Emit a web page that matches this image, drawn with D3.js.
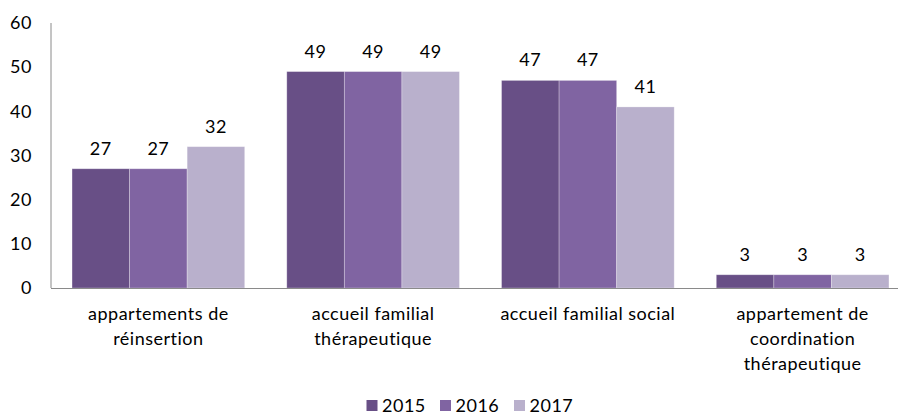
<!DOCTYPE html>
<html>
<head>
<meta charset="utf-8">
<script src="https://cdn.jsdelivr.net/npm/d3@7"></script>
<style>
  html, body { margin: 0; padding: 0; background: #fff; }
  svg { display: block; font-family: Lato, "Open Sans", sans-serif; letter-spacing: 0.5px; }
</style>
</head>
<body>
<svg id="chart" width="898" height="415"></svg>
<script>
// Categories (multi-line labels) and one value array per year
const categories = [
  ["appartements de", "réinsertion"],
  ["accueil familial", "thérapeutique"],
  ["accueil familial social"],
  ["appartement de", "coordination", "thérapeutique"]
];
const years = ["2015", "2016", "2017"];
const values2015 = [27, 49, 47, 3];
const values2016 = [27, 49, 47, 3];
const values2017 = [32, 49, 41, 3];
const yTicks = [0, 10, 20, 30, 40, 50, 60];
const colors = ["#684f86", "#8064a2", "#b9b0cc"];

const series = [values2015, values2016, values2017];

const svg = d3.select("#chart");
const fontSize = 18;

const x0 = d3.scaleBand()
  .domain(d3.range(categories.length))
  .range([51, 910])
  .paddingInner(0.196)
  .paddingOuter(0.098);

const x1 = d3.scaleBand()
  .domain(d3.range(years.length))
  .range([0, x0.bandwidth()]);

const y = d3.scaleLinear().domain([0, 60]).range([288, 23]);

// Y axis: labels only, plus the vertical rule
const yAxis = d3.axisLeft(y).tickValues(yTicks).tickSize(0).tickPadding(19);
const gy = svg.append("g").attr("transform", "translate(51,0)").call(yAxis);
gy.select(".domain").remove();
gy.selectAll("text")
  .attr("font-size", fontSize)
  .attr("font-family", "Lato, 'Open Sans', sans-serif")
  .attr("fill", "#000");

svg.append("line")
  .attr("x1", 51).attr("x2", 51)
  .attr("y1", y(60)).attr("y2", y(0))
  .attr("stroke", "#8a8a8a").attr("stroke-width", 1);

// Bars
const groups = svg.append("g").selectAll("g")
  .data(categories)
  .join("g")
  .attr("transform", (d, i) => `translate(${x0(i)},0)`);

groups.each(function(cat, ci) {
  const g = d3.select(this);
  series.forEach((vals, si) => {
    const v = vals[ci];
    g.append("rect")
      .attr("x", x1(si))
      .attr("y", y(v))
      .attr("width", x1.bandwidth())
      .attr("height", y(0) - y(v))
      .attr("fill", colors[si])
      .attr("stroke", "#ffffff")
      .attr("stroke-opacity", 0.35)
      .attr("stroke-width", 0.8);
    g.append("text")
      .attr("x", x1(si) + x1.bandwidth() / 2)
      .attr("y", y(v) - 14)
      .attr("text-anchor", "middle")
      .attr("font-size", fontSize)
      .attr("fill", "#000")
      .text(v);
  });
});

// X axis rule
svg.append("line")
  .attr("x1", 51).attr("x2", 898)
  .attr("y1", y(0) + 0.5).attr("y2", y(0) + 0.5)
  .attr("stroke", "#8a8a8a").attr("stroke-width", 1);

// Category labels
categories.forEach((lines, ci) => {
  const t = svg.append("text")
    .attr("x", x0(ci) + x0.bandwidth() / 2)
    .attr("y", 320)
    .attr("text-anchor", "middle")
    .attr("font-size", fontSize)
    .attr("fill", "#000");
  lines.forEach((ln, li) => {
    t.append("tspan")
      .attr("x", x0(ci) + x0.bandwidth() / 2)
      .attr("dy", li === 0 ? 0 : 25)
      .text(ln);
  });
});

// Legend
const legendX = [366.5, 440, 514];
const legend = svg.append("g");
years.forEach((yr, i) => {
  legend.append("rect")
    .attr("x", legendX[i]).attr("y", 400)
    .attr("width", 11).attr("height", 11)
    .attr("fill", colors[i]);
  legend.append("text")
    .attr("x", legendX[i] + 15.5)
    .attr("y", 412)
    .attr("font-size", fontSize)
    .attr("fill", "#000")
    .text(yr);
});
</script>
</body>
</html>
